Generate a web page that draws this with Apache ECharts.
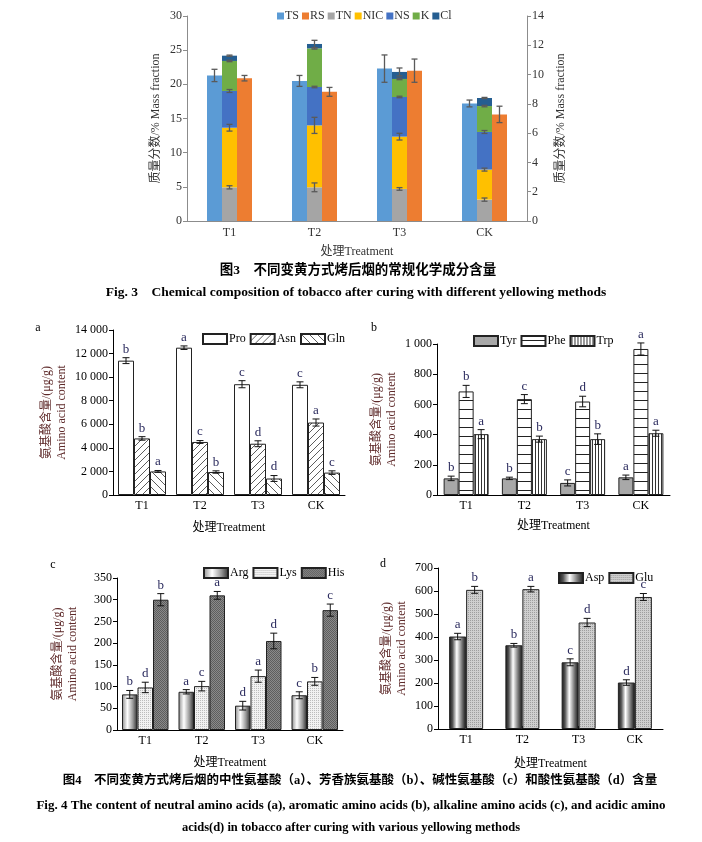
<!DOCTYPE html>
<html>
<head>
<meta charset="utf-8">
<script src="https://cdn.jsdelivr.net/npm/echarts@6/dist/echarts.min.js"></script>
<style>
html,body{margin:0;padding:0;background:#fff;}
#main{width:702px;height:842px;}
</style>
</head>
<body>
<div id="main"></div>
<script>
// ---------- DATA ----------
const categories = ['T1', 'T2', 'T3', 'CK'];

// Fig. 3 (TS, RS on left axis; stacked components on right axis)
const TS = [21.3, 20.5, 22.3, 17.2];
const TS_err = [0.9, 0.8, 2.0, 0.5];
const RS = [20.9, 18.9, 22.0, 15.6];
const RS_err = [0.4, 0.65, 1.7, 1.2];
const TN = [2.30, 2.30, 2.19, 1.46];
const TN_err = [0.11, 0.3, 0.09, 0.11];
const NIC = [4.07, 4.23, 3.57, 2.05];
const NIC_err = [0.23, 0.55, 0.23, 0.1];
const NS = [2.51, 2.62, 2.71, 2.57];
const NS_err = [0.1, 0.05, 0.05, 0.1];
const K = [2.05, 2.64, 1.23, 1.77];
const K_err = [0.05, 0.05, 0.05, 0.05];
const Cl = [0.36, 0.30, 0.48, 0.55];
const Cl_err = [0.04, 0.25, 0.27, 0.04];
const fig3LeftTicks = [0, 5, 10, 15, 20, 25, 30];
const fig3RightTicks = [0, 2, 4, 6, 8, 10, 12, 14];

// Fig. 4a neutral amino acids
const Pro = [11400, 12500, 9400, 9350];
const Pro_err = [250, 150, 300, 250];
const Pro_sig = ['b', 'a', 'c', 'c'];
const Asn = [4800, 4500, 4350, 6150];
const Asn_err = [150, 120, 250, 300];
const Asn_sig = ['b', 'c', 'd', 'a'];
const Gln = [2000, 1950, 1400, 1900];
const Gln_err = [80, 100, 250, 150];
const Gln_sig = ['a', 'b', 'd', 'c'];
const ticksA = [0, 2000, 4000, 6000, 8000, 10000, 12000, 14000];

// Fig. 4b aromatic amino acids
const Tyr = [110, 110, 80, 117];
const Tyr_err = [15, 8, 20, 15];
const Tyr_sig = ['b', 'b', 'c', 'a'];
const Phe = [686, 635, 619, 967];
const Phe_err = [40, 30, 35, 40];
const Phe_sig = ['b', 'c', 'd', 'a'];
const Trp = [403, 370, 370, 409];
const Trp_err = [30, 20, 35, 20];
const Trp_sig = ['a', 'b', 'b', 'a'];
const ticksB = [0, 200, 400, 600, 800, 1000];

// Fig. 4c alkaline amino acids
const Arg = [82, 88, 56, 80];
const Arg_err = [9, 5, 10, 8];
const Arg_sig = ['b', 'a', 'd', 'c'];
const Lys = [98, 101, 124, 112];
const Lys_err = [12, 11, 14, 9];
const Lys_sig = ['d', 'c', 'a', 'b'];
const His = [300, 310, 205, 276];
const His_err = [14, 9, 18, 14];
const His_sig = ['b', 'a', 'd', 'c'];
const ticksC = [0, 50, 100, 150, 200, 250, 300, 350];

// Fig. 4d acidic amino acids
const Asp = [402, 364, 290, 202];
const Asp_err = [14, 8, 15, 12];
const Asp_sig = ['a', 'b', 'c', 'd'];
const Glu = [605, 608, 463, 574];
const Glu_err = [15, 12, 18, 15];
const Glu_sig = ['b', 'a', 'd', 'c'];
const ticksD = [0, 100, 200, 300, 400, 500, 600, 700];

// ---------- STYLE HELPERS ----------
const FONT = '"Liberation Serif", "Times New Roman", "Noto Sans CJK SC", serif';
const NAME_COLOR = '#5e2a2a';
const SIG_COLOR = '#2b2b5e';

function pattern(w, h, bg, draw) {
  const c = document.createElement('canvas');
  c.width = w; c.height = h;
  const g = c.getContext('2d');
  g.fillStyle = bg; g.fillRect(0, 0, w, h);
  draw(g);
  return { image: c, repeat: 'repeat' };
}
const patFwd = pattern(7, 7, '#fff', g => {
  g.strokeStyle = '#333'; g.lineWidth = 0.8;
  g.beginPath(); g.moveTo(-1, 8); g.lineTo(8, -1); g.stroke();
});
const patBack = pattern(8, 8, '#fff', g => {
  g.strokeStyle = '#333'; g.lineWidth = 0.8;
  g.beginPath(); g.moveTo(-1, -1); g.lineTo(9, 9); g.stroke();
});
const patHoriz = pattern(4, 9, '#fff', g => {
  g.fillStyle = '#222'; g.fillRect(0, 4, 4, 1);
});
const patVert = pattern(3, 4, '#fff', g => {
  g.fillStyle = '#333'; g.fillRect(1, 0, 1, 4);
});
const patLys = pattern(2, 2, '#f2f2f2', g => {
  g.fillStyle = '#bdbdbd'; g.fillRect(0, 0, 1, 1);
});
const patHis = pattern(2, 2, '#8a8a8a', g => {
  g.fillStyle = '#5e5e5e'; g.fillRect(0, 0, 1, 1); g.fillRect(1, 1, 1, 1);
});
const patGlu = pattern(2, 2, '#cfcfcf', g => {
  g.fillStyle = '#9e9e9e'; g.fillRect(0, 0, 1, 1);
});
const gradArg = { type: 'linear', x: 0, y: 0, x2: 1, y2: 0, colorStops: [
  { offset: 0, color: '#8a8a8a' }, { offset: 0.35, color: '#ffffff' },
  { offset: 0.7, color: '#9a9a9a' }, { offset: 1, color: '#2a2a2a' }] };
const gradAsp = { type: 'linear', x: 0, y: 0, x2: 1, y2: 0, colorStops: [
  { offset: 0, color: '#111' }, { offset: 0.2, color: '#555' }, { offset: 0.45, color: '#ffffff' },
  { offset: 0.75, color: '#777' }, { offset: 1, color: '#111' }] };

function thousands(v) {
  return String(v).replace(/\B(?=(\d{3})+(?!\d))/g, ' ');
}

// error bar + significance letters, positioned from the axis coordinate system
function errSeries(id, axisIdx, yIdx, tops, errs, k, n, bw, opts) {
  const letters = opts.letters || null;
  return {
    type: 'custom', id: id, xAxisIndex: axisIdx, yAxisIndex: yIdx, z: 10,
    silent: true,
    data: tops.map((v, i) => [i, v, errs[i]]),
    renderItem: function (params, api) {
      const i = api.value(0), v = api.value(1), e = api.value(2);
      const top = api.coord([i, v + e]);
      const bot = api.coord([i, v - e]);
      const x = top[0] + (k - (n - 1) / 2) * bw;
      const cw = opts.cap;
      const st = { stroke: opts.color, lineWidth: opts.lw };
      const children = [
        { type: 'line', shape: { x1: x, y1: top[1], x2: x, y2: bot[1] }, style: st },
        { type: 'line', shape: { x1: x - cw, y1: top[1], x2: x + cw, y2: top[1] }, style: st },
        { type: 'line', shape: { x1: x - cw, y1: bot[1], x2: x + cw, y2: bot[1] }, style: st }
      ];
      if (letters) {
        children.push({ type: 'text', style: { text: letters[params.dataIndex], x: x, y: top[1] - 2,
          align: 'center', verticalAlign: 'bottom', font: '13px ' + FONT, fill: SIG_COLOR } });
      }
      return { type: 'group', children: children };
    }
  };
}

function cumulative(list, idx) {
  return list[0].map((_, i) => {
    let s = 0;
    for (let j = 0; j <= idx; j++) s += list[j][i];
    return s;
  });
}

// ---------- AXES ----------
const grids = [
  { left: 187, top: 16, width: 340, height: 205 },
  { left: 113, top: 330, width: 232, height: 165 },
  { left: 437, top: 344, width: 233, height: 151 },
  { left: 117, top: 578, width: 226, height: 152 },
  { left: 438, top: 568, width: 225, height: 161 }
].map(g => Object.assign({ containLabel: false, outerBoundsMode: 'none' }, g));

function xAx(gi, gap, gray) {
  return {
    type: 'category', gridIndex: gi, data: categories,
    name: '处理Treatment', nameLocation: 'middle', nameGap: gap,
    nameTextStyle: { fontFamily: FONT, fontSize: 12, color: gray ? '#333' : '#000' },
    axisLine: { lineStyle: { color: gray ? '#8c8c8c' : '#000', width: 1 } },
    axisTick: gray ? { show: false } : { show: true, inside: true, alignWithLabel: true, length: 3, lineStyle: { color: '#000' } },
    axisLabel: { fontFamily: FONT, fontSize: 12, color: gray ? '#333' : '#000', margin: gray ? 6 : 5 },
    splitLine: { show: false }
  };
}
function yAx(gi, ticks, name, gap, opts) {
  opts = opts || {};
  return {
    type: 'value', gridIndex: gi, min: ticks[0], max: ticks[ticks.length - 1],
    interval: ticks[1] - ticks[0], position: opts.position || 'left',
    name: name, nameLocation: 'middle', nameGap: gap, nameRotate: 90,
    nameTextStyle: { fontFamily: FONT, fontSize: 12, lineHeight: 15, color: opts.nameColor || NAME_COLOR, align: 'center' },
    axisLine: { show: true, lineStyle: { color: opts.gray ? '#8c8c8c' : '#000' } },
    axisTick: { show: true, length: 4, lineStyle: { color: opts.gray ? '#8c8c8c' : '#000' } },
    axisLabel: { fontFamily: FONT, fontSize: 12, color: opts.gray ? '#333' : '#000', margin: 5,
      formatter: v => thousands(v) },
    splitLine: { show: false }
  };
}

const xAxes = [xAx(0, 25, true), xAx(1, 27), xAx(2, 25), xAx(3, 27), xAx(4, 29)];
const yAxes = [
  yAx(0, fig3LeftTicks, '质量分数/% Mass fraction', 24, { gray: true, nameColor: '#333' }),
  yAx(0, fig3RightTicks, '质量分数/% Mass fraction', 26, { gray: true, nameColor: '#333', position: 'right' }),
  yAx(1, ticksA, '氨基酸含量/(μg/g)\nAmino acid content', 44),
  yAx(2, ticksB, '氨基酸含量/(μg/g)\nAmino acid content', 38),
  yAx(3, ticksC, '氨基酸含量/(μg/g)\nAmino acid content', 37),
  yAx(4, ticksD, '氨基酸含量/(μg/g)\nAmino acid content', 29)
];

// ---------- SERIES ----------
const series = [];
const BW3 = 15;
function bar3(name, data, yIdx, color, stack) {
  const s = { type: 'bar', name: name, xAxisIndex: 0, yAxisIndex: yIdx, data: data,
    barWidth: BW3, barGap: '0%', itemStyle: { color: color } };
  if (stack) s.stack = stack;
  return s;
}
const stackList = [TN, NIC, NS, K, Cl];
const stackErr = [TN_err, NIC_err, NS_err, K_err, Cl_err];
series.push(bar3('TS', TS, 0, '#5B9BD5'));
series.push(bar3('TN', TN, 1, '#A5A5A5', 'comp'));
series.push(bar3('NIC', NIC, 1, '#FFC000', 'comp'));
series.push(bar3('NS', NS, 1, '#4472C4', 'comp'));
series.push(bar3('K', K, 1, '#70AD47', 'comp'));
series.push(bar3('Cl', Cl, 1, '#255E91', 'comp'));
series.push(bar3('RS', RS, 0, '#ED7D31'));
const e3 = { color: '#5a5a5a', lw: 1.3, cap: 3 };
series.push(errSeries('eTS', 0, 0, TS, TS_err, 0, 3, BW3, e3));
series.push(errSeries('eRS', 0, 0, RS, RS_err, 2, 3, BW3, e3));
stackList.forEach((arr, j) => {
  series.push(errSeries('eS' + j, 0, 1, cumulative(stackList, j), stackErr[j], 1, 3, BW3, e3));
});

function groupBars(axisIdx, yIdx, bw, defs) {
  const n = defs.length;
  defs.forEach((d, k) => {
    series.push({ type: 'bar', name: d.name, xAxisIndex: axisIdx, yAxisIndex: yIdx, data: d.data,
      barWidth: bw, barGap: '0%', itemStyle: { color: d.color, borderColor: '#222', borderWidth: 1 } });
    series.push(errSeries('e' + d.name, axisIdx, yIdx, d.data, d.err, k, n, bw,
      { color: '#111', lw: 1, cap: 3.5, letters: d.sig }));
  });
}
groupBars(1, 2, 16, [
  { name: 'Pro', data: Pro, err: Pro_err, sig: Pro_sig, color: '#fff' },
  { name: 'Asn', data: Asn, err: Asn_err, sig: Asn_sig, color: patFwd },
  { name: 'Gln', data: Gln, err: Gln_err, sig: Gln_sig, color: patBack }
]);
groupBars(2, 3, 15, [
  { name: 'Tyr', data: Tyr, err: Tyr_err, sig: Tyr_sig, color: '#a8a8a8' },
  { name: 'Phe', data: Phe, err: Phe_err, sig: Phe_sig, color: patHoriz },
  { name: 'Trp', data: Trp, err: Trp_err, sig: Trp_sig, color: patVert }
]);
groupBars(3, 4, 15.5, [
  { name: 'Arg', data: Arg, err: Arg_err, sig: Arg_sig, color: gradArg },
  { name: 'Lys', data: Lys, err: Lys_err, sig: Lys_sig, color: patLys },
  { name: 'His', data: His, err: His_err, sig: His_sig, color: patHis }
]);
groupBars(4, 5, 17, [
  { name: 'Asp', data: Asp, err: Asp_err, sig: Asp_sig, color: gradAsp },
  { name: 'Glu', data: Glu, err: Glu_err, sig: Glu_sig, color: patGlu }
]);

// ---------- LEGENDS ----------
function leg4(names, left, top) {
  return { data: names, left: left, top: top, itemWidth: 24, itemHeight: 10, itemGap: 4,
    icon: 'rect', selectedMode: false, padding: 0,
    textStyle: { fontFamily: FONT, fontSize: 12, color: '#000', padding: [0, 0, 0, -3] } };
}
const legends = [
  { data: ['TS', 'RS', 'TN', 'NIC', 'NS', 'K', 'Cl'], left: 277, top: 10, itemWidth: 7, itemHeight: 7,
    itemGap: 3, icon: 'rect', selectedMode: false, padding: 0,
    textStyle: { fontFamily: FONT, fontSize: 12, color: '#333', padding: [0, 0, 0, -4] } },
  leg4(['Pro', 'Asn', 'Gln'], 202, 333),
  leg4(['Tyr', 'Phe', 'Trp'], 473, 335),
  leg4(['Arg', 'Lys', 'His'], 203, 567),
  leg4(['Asp', 'Glu'], 558, 572)
];

// ---------- TEXT ----------
function txt(t, x, y, font, align) {
  return { type: 'text', x: x, y: y, silent: true,
    style: { text: t, font: font, fill: '#000', align: align || 'center', verticalAlign: 'middle' } };
}
const graphics = [
  txt('图3　不同变黄方式烤后烟的常规化学成分含量', 358, 271, 'bold 13.5px ' + FONT),
  txt('Fig. 3　Chemical composition of tobacco after curing with different yellowing methods', 356, 293, 'bold 13.5px ' + FONT),
  txt('a', 38, 328, '12px ' + FONT),
  txt('b', 374, 328, '12px ' + FONT),
  txt('c', 53, 565, '12px ' + FONT),
  txt('d', 383, 564, '12px ' + FONT),
  txt('图4　不同变黄方式烤后烟的中性氨基酸（a）、芳香族氨基酸（b）、碱性氨基酸（c）和酸性氨基酸（d）含量', 360, 781, 'bold 12.5px ' + FONT),
  txt('Fig. 4 The content of neutral amino acids (a), aromatic amino acids (b), alkaline amino acids (c), and acidic amino', 351, 806, 'bold 13px ' + FONT),
  txt('acids(d) in tobacco after curing with various yellowing methods', 351, 828, 'bold 12.5px ' + FONT)
];

const chart = echarts.init(document.getElementById('main'), null, { renderer: 'canvas' });
chart.setOption({
  backgroundColor: '#fff',
  animation: false,
  grid: grids,
  xAxis: xAxes,
  yAxis: yAxes,
  legend: legends,
  series: series,
  graphic: graphics
});
</script>
</body>
</html>
